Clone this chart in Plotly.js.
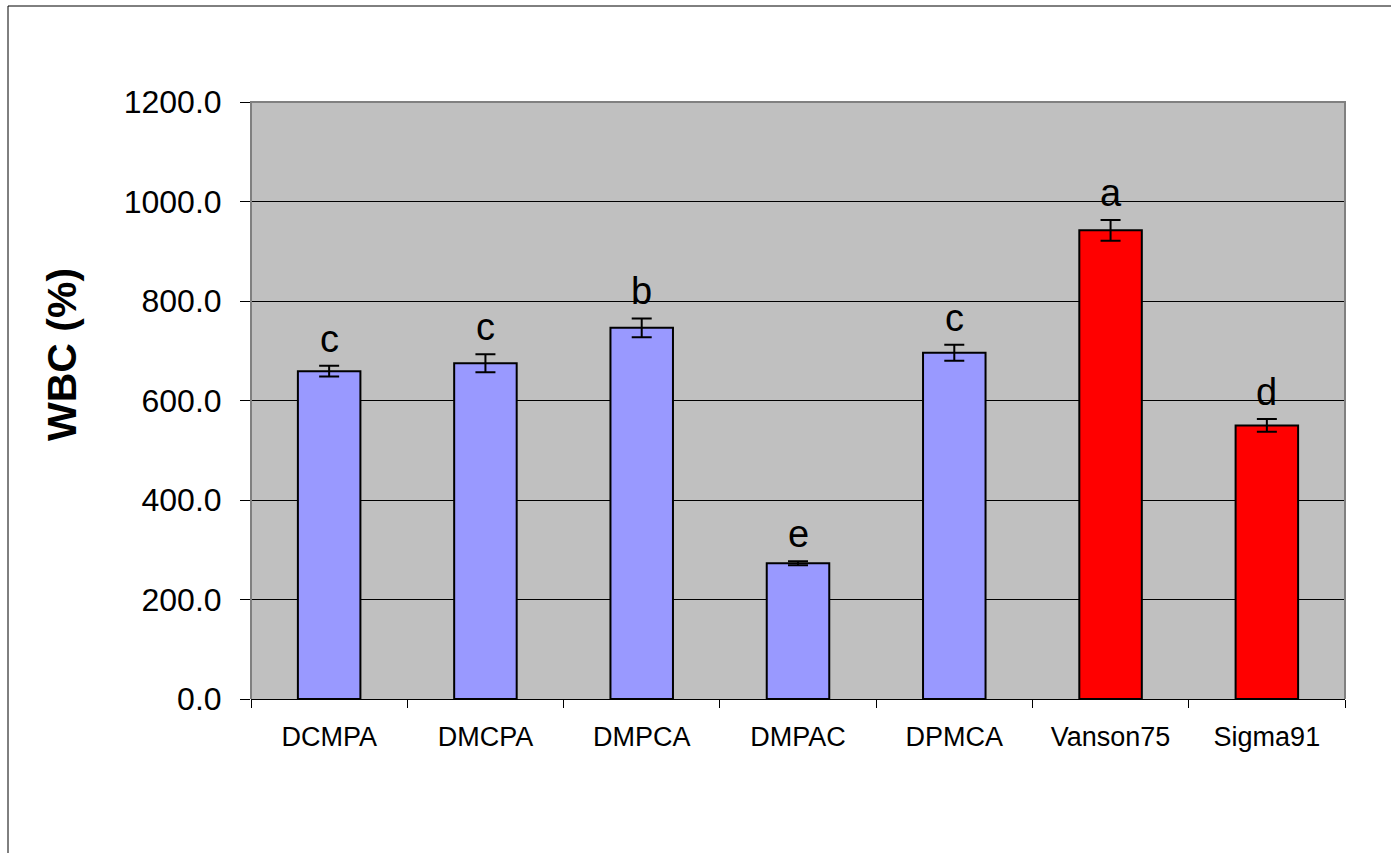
<!DOCTYPE html>
<html>
<head>
<meta charset="utf-8">
<script src="https://cdn.plot.ly/plotly-3.0.1.min.js"></script>
<style>
  html, body { margin: 0; padding: 0; background: #ffffff; }
  #chart { width: 1391px; height: 853px; }
</style>
</head>
<body>
<div id="chart"></div>
<script>
// ---- data ----
const categories = ["DCMPA", "DMCPA", "DMPCA", "DMPAC", "DPMCA", "Vanson75", "Sigma91"];
const wbcValues  = [659, 675, 746, 273, 696, 942, 550];
const wbcErrors  = [11, 18, 19, 4, 16, 21, 13];
const letters    = ["c", "c", "b", "e", "c", "a", "d"];
const groups     = ["blend", "blend", "blend", "blend", "blend", "control", "control"];
const yTickVals  = [0, 200, 400, 600, 800, 1000, 1200];

// ---- styles ----
const groupColor = { blend: "#9999FF", control: "#FF0000" };
const W = 1391, H = 853;
const M = { l: 251, r: 46, t: 102, b: 154, pad: 0 };
const px2x = px => (px - M.l) / (W - M.l - M.r);
const px2y = py => (H - M.b - py) / (H - M.t - M.b);
const FONT = "Liberation Sans, Arial, sans-serif";

const trace = {
  type: "bar",
  x: categories,
  y: wbcValues,
  marker: {
    color: groups.map(g => groupColor[g]),
    line: { color: "#000000", width: 2 }
  },
  error_y: {
    type: "data",
    array: wbcErrors,
    visible: true,
    color: "#000000",
    thickness: 2,
    width: 10
  },
  hoverinfo: "x+y"
};

const letterAnnotations = categories.map((c, i) => ({
  x: c,
  y: wbcValues[i] + wbcErrors[i],
  xref: "x",
  yref: "y",
  text: letters[i],
  showarrow: false,
  xanchor: "center",
  yanchor: "bottom",
  yshift: 4,
  font: { family: FONT, size: 38, color: "#000000" }
}));

const layout = {
  width: W,
  height: H,
  margin: M,
  paper_bgcolor: "#ffffff",
  plot_bgcolor: "#C0C0C0",
  showlegend: false,
  bargap: 0.6,
  font: { family: FONT, color: "#000000" },
  xaxis: {
    type: "category",
    tickson: "boundaries",
    ticks: "outside",
    ticklen: 8,
    tickwidth: 1,
    tickcolor: "#000000",
    showline: true,
    linecolor: "#000000",
    linewidth: 1,
    showgrid: false,
    ticklabelstandoff: 14,
    tickfont: { family: FONT, size: 27, color: "#000000" },
    fixedrange: true
  },
  yaxis: {
    range: [0, 1200],
    tickvals: yTickVals,
    tickformat: ".1f",
    ticks: "outside",
    ticklen: 10,
    tickwidth: 1,
    tickcolor: "#000000",
    showline: false,
    showgrid: true,
    gridcolor: "#000000",
    gridwidth: 1,
    zeroline: false,
    ticklabelstandoff: 12,
    tickfont: { family: FONT, size: 32, color: "#000000" },
    fixedrange: true
  },
  annotations: letterAnnotations.concat([{
    xref: "paper",
    yref: "paper",
    x: px2x(62),
    y: px2y(355),
    text: "<b>WBC (%)</b>",
    textangle: -90,
    showarrow: false,
    xanchor: "center",
    yanchor: "middle",
    font: { family: FONT, size: 41, color: "#000000" }
  }]),
  shapes: [
    // plot-area frame (left, top, right)
    {
      type: "path", xref: "paper", yref: "paper", layer: "above",
      path: `M 0 0 L 0 1 L 1 1 L 1 0`,
      line: { color: "#808080", width: 2 }
    },
    // outer chart border (left and top edges)
    {
      type: "path", xref: "paper", yref: "paper", layer: "above",
      path: `M ${px2x(8)} ${px2y(H + 5)} L ${px2x(8)} ${px2y(6)} L ${px2x(W + 5)} ${px2y(6)}`,
      line: { color: "#000000", width: 1 }
    }
  ]
};

Plotly.newPlot("chart", [trace], layout, { displayModeBar: false, staticPlot: true });
</script>
</body>
</html>
